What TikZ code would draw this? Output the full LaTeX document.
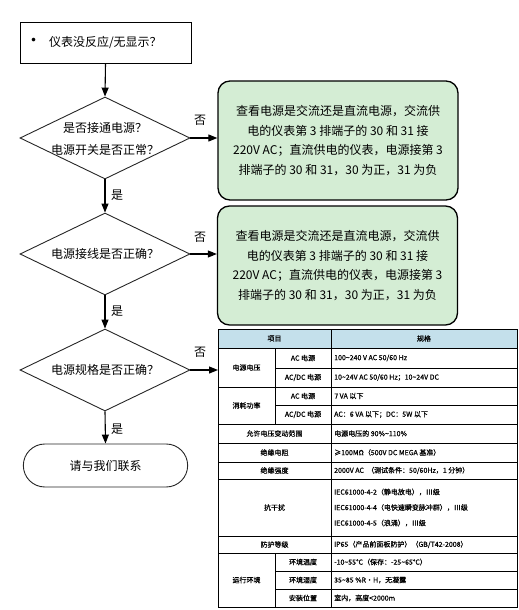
\documentclass[tikz,border=0pt]{standalone}
\usepackage{fontspec}
\setmainfont{Noto Sans CJK SC}
\newfontfamily\tabfont[FakeBold=0.6]{Noto Sans CJK SC}
\usetikzlibrary{shapes.geometric,shapes.misc,arrows.meta}
\definecolor{boxgreen}{HTML}{D4EDD4}
\definecolor{headblue}{HTML}{C4E0EB}
\begin{document}
\begin{tikzpicture}[x=1pt,y=-1pt,
  flowtext/.style={font=\fontsize{12}{22}\selectfont, inner sep=0pt, align=center},
  dia/.style={diamond, draw=black!85, line width=0.9pt, minimum width=170pt, minimum height=82pt, inner sep=0pt},
  arr/.style={line width=1.1pt, -{Triangle[length=9pt,width=7pt]}},
  gbox/.style={draw, line width=1.3pt, fill=boxgreen, rounded corners=12pt, minimum width=240pt, minimum height=119pt, inner sep=0pt, align=center, font=\fontsize{12}{19.5}\selectfont},
  lbl/.style={font=\fontsize{12}{14}\selectfont, inner sep=0pt},
  tcell/.style={font=\tabfont\fontsize{7}{8.5}\selectfont, inner sep=0pt},
  tleft/.style={tcell, anchor=west},
  tline/.style={line width=0.6pt}
]
\useasboundingbox (0,0) rectangle (519,610);

% ---------------- flowchart ----------------
\node[draw, line width=0.9pt, minimum width=171pt, minimum height=41pt, inner xsep=5pt, text width=161pt, align=left, font=\fontsize{12}{14}\selectfont] (q0) at (105.5,42.5) {{\fontsize{17}{14}\selectfont •}\hspace{7pt}仪表没反应/无显示？};

\node[dia] (d1) at (105,138) {};
\node[flowtext] (d1t) at (105,139) {是否接通电源？\\电源开关是否正常？};

\node[dia] (d2) at (105,254) {};
\node[flowtext] (d2t) at (105,254) {电源接线是否正确？};

\node[dia] (d3) at (105,370) {};
\node[flowtext] (d3t) at (105,370) {电源规格是否正确？};

\node[rounded rectangle, draw=black!85, line width=0.9pt, minimum width=171pt, minimum height=43pt, font=\fontsize{12}{14}\selectfont] (end) at (105.5,465.5) {请与我们联系};

\node[gbox] (g1) at (338,140.5) {查看电源是交流还是直流电源，交流供\\电的仪表第 3 排端子的 30 和 31 接\\220V AC；直流供电的仪表，电源接第 3\\排端子的 30 和 31，30 为正，31 为负};
\node[gbox] (g2) at (337.5,265.5) {查看电源是交流还是直流电源，交流供\\电的仪表第 3 排端子的 30 和 31 接\\220V AC；直流供电的仪表，电源接第 3\\排端子的 30 和 31，30 为正，31 为负};

% ---------------- table ----------------
\fill[headblue] (218,329) rectangle (517,348);
\foreach \yy in {348,387,424,443,462,479,536,553}
  \draw[tline] (218,\yy) -- (517,\yy);
\foreach \yy in {368,405,571,589}
  \draw[tline] (275,\yy) -- (517,\yy);
\draw[tline] (331,329) -- (331,607);
\draw[tline] (275,348) -- (275,424);
\draw[tline] (275,553) -- (275,607);
\node[draw, line width=1.4pt, minimum width=299pt, minimum height=278pt, inner sep=0pt, anchor=north west] (tbl) at (218,329) {};

\node[tcell] (h1) at (274.5,338.5) {项目};
\node[tcell] (h2) at (424,338.5) {规格};

\node[tcell] (a0) at (246.5,367.5) {电源电压};
\node[tcell] (a1) at (303,358) {AC 电源};
\node[tleft] (a2) at (334,358) {100\textasciitilde240 V AC 50/60 Hz};
\node[tcell] (a3) at (303,377.5) {AC/DC 电源};
\node[tleft] (a4) at (334,377.5) {10\textasciitilde24V AC 50/60 Hz；10\textasciitilde24V DC};

\node[tcell] (b0) at (246.5,405.5) {消耗功率};
\node[tcell] (b1) at (303,396) {AC 电源};
\node[tleft] (b2) at (334,396) {7 VA 以下};
\node[tcell] (b3) at (303,414.5) {AC/DC 电源};
\node[tleft] (b4) at (334,414.5) {AC：6 VA 以下；DC：5W 以下};

\node[tcell] (c0) at (274.5,433.5) {允许电压变动范围};
\node[tleft] (c1) at (334,433.5) {电源电压的 90\%\textasciitilde110\%};
\node[tcell] (e0) at (274.5,452.5) {绝缘电阻};
\node[tleft] (e1) at (334,452.5) {≥100MΩ（500V DC MEGA 基准）};
\node[tcell] (f0) at (274.5,470.5) {绝缘强度};
\node[tleft] (f1) at (334,470.5) {2000V AC \ （测试条件：50/60Hz，1 分钟）};

\node[tcell] (k0) at (274.5,507.5) {抗干扰};
\node[tleft] (k1) at (334,492) {IEC61000-4-2（静电放电），Ⅲ级};
\node[tleft] (k2) at (334,507.5) {IEC61000-4-4（电快速瞬变脉冲群），Ⅲ级};
\node[tleft] (k3) at (334,523) {IEC61000-4-5（浪涌），Ⅲ级};

\node[tcell] (p0) at (274.5,544.5) {防护等级};
\node[tleft] (p1) at (334,544.5) {IP65（产品前面板防护）（GB/T42-2008）};

\node[tcell] (r0) at (246.5,580) {运行环境};
\node[tcell] (r1) at (303,562) {环境温度};
\node[tleft] (r2) at (334,562) {-10\textasciitilde55℃（保存：-25\textasciitilde65℃）};
\node[tcell] (r3) at (303,580) {环境湿度};
\node[tleft] (r4) at (334,580) {35\textasciitilde85 \%R·H，无凝露};
\node[tcell] (r5) at (303,598) {安装位置};
\node[tleft] (r6) at (334,598) {室内，高度<2000m};

% ---------------- connectors ----------------
\draw[arr] (q0.south) -- (d1.north);
\draw[arr] (d1.south) -- (d2.north);
\draw[arr] (d2.south) -- (d3.north);
\draw[arr] (d3.south) -- (end.north);
\draw[arr] (d1.east) -- (d1.east -| g1.west);
\draw[arr] (d2.east) -- (d2.east -| g2.west);
\draw[arr] (d3.east) -- (d3.east -| tbl.west);

\node[lbl] (y1) at (117,195) {是};
\node[lbl] (y2) at (117,311) {是};
\node[lbl] (y3) at (117,429) {是};
\node[lbl] (n1) at (200,120) {否};
\node[lbl] (n2) at (200,237) {否};
\node[lbl] (n3) at (200,352) {否};
\end{tikzpicture}
\end{document}
